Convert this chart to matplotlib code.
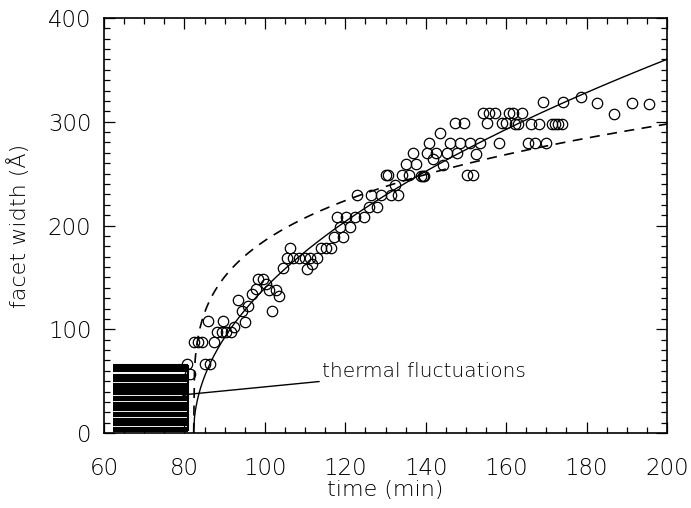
import numpy as np
import matplotlib
matplotlib.use("Agg")
import matplotlib.pyplot as plt
from matplotlib.ticker import MultipleLocator

plt.rcParams["font.family"] = "DejaVu Sans"
plt.rcParams["font.weight"] = 200
plt.rcParams["axes.labelweight"] = 200

# Measured facet widths (time in min, width in Angstrom)
time_min = [
    80.6, 81.4, 82.4, 83.4, 84.4, 87.3, 85.1, 86.4, 85.8, 89.7,
    88.2, 89.3, 90.3, 91.5, 92.4, 95.1, 94.2, 95.9, 93.4, 96.7,
    97.8, 98.4, 99.6, 100.2, 101.1, 102.8, 103.5, 101.7, 104.6,
    105.4, 107.1, 108.6, 110.0, 111.2, 112.9, 106.3, 111.6, 110.6,
    114.0, 115.2, 116.4, 117.1, 119.5, 118.7, 121.1,
    117.9, 120.2, 122.4, 124.7, 125.9, 127.9,
    123.0, 126.5, 129.0, 131.4, 133.2, 132.4,
    130.0, 130.6, 134.0, 135.9, 138.8, 139.3, 139.6,
    135.1, 137.5, 136.8, 140.2, 142.6, 145.2, 147.7, 141.7, 144.4,
    140.9, 146.1, 148.5, 151.0, 153.5, 158.1, 143.6,
    147.3, 149.5, 155.3, 158.9, 160.0, 154.3, 155.7, 157.2,
    152.6, 150.2, 151.8, 160.6, 161.6, 163.9,
    162.2, 163.0, 166.3, 168.2, 171.3, 172.1, 173.0, 173.8,
    169.1, 174.1, 178.5, 182.7, 186.9, 191.4, 195.6,
    165.5, 167.2, 169.9,
]
facet_width = [
    67.0, 56.6, 88.0, 88.0, 88.0, 87.5, 67.0, 67.0, 108.0, 108.0,
    97.6, 97.6, 97.6, 97.6, 101.8, 107.3, 117.6, 122.4, 128.2, 133.7,
    138.5, 148.1, 148.1, 143.3, 137.8, 137.8, 132.3, 117.6, 158.7,
    168.4, 168.4, 168.4, 168.4, 168.4, 168.4, 178.0, 163.0, 158.0,
    178.0, 178.0, 178.0, 188.6, 188.6, 198.5, 198.5,
    208.0, 208.0, 208.0, 208.0, 218.0, 218.0,
    229.0, 229.0, 229.0, 229.0, 229.0, 239.5,
    249.0, 249.0, 249.0, 249.0, 248.0, 248.0, 248.0,
    259.5, 259.5, 269.6, 269.6, 269.6, 269.6, 269.6, 263.8, 258.3,
    279.5, 279.2, 279.2, 279.2, 279.2, 279.2, 289.4,
    299.0, 299.0, 299.0, 299.0, 299.0, 308.7, 308.7, 308.7,
    269.0, 248.5, 248.5, 308.7, 308.7, 308.7,
    298.0, 298.0, 298.0, 298.0, 298.0, 298.0, 298.0, 298.0,
    318.7, 318.7, 323.6, 317.8, 307.2, 317.8, 317.1,
    279.2, 279.2, 279.2,
]

# Power-law growth fits w = A * (t - t0)**n
fit_t0 = 82.3
solid_amp, solid_exp = 33.2, 0.5
dashed_amp, dashed_exp = 90.4, 0.25

# Thermal fluctuation trace before facet nucleation
fluct_t_start = 62.3
fluct_t_end = 81.0
fluct_levels = [
    1.5, 3.0, 4.5, 7.5, 9.0, 10.5, 12.0, 13.5, 16.5, 18.0, 19.5,
    22.5, 24.0, 25.5, 27.0, 28.5, 31.5, 33.0, 34.5, 38.0, 39.5,
    41.0, 42.5, 44.0, 45.5, 47.0, 50.0, 51.5, 53.0, 54.5, 56.0,
    59.5, 61.0, 62.5, 64.0, 65.5,
]

x_ticks = [60, 80, 100, 120, 140, 160, 180, 200]
y_ticks = [0, 100, 200, 300, 400]

fig = plt.figure(figsize=(6.91, 5.08), dpi=100)
ax = fig.add_axes([0.1505, 0.1476, 0.8148, 0.8170])

# fluctuation block
ax.hlines(fluct_levels, fluct_t_start, fluct_t_end, colors="black", linewidth=1.5)
ax.vlines([fluct_t_end], min(fluct_levels), max(fluct_levels), colors="black", linewidth=1.5)

# fit curves
t_fit = np.linspace(fit_t0, 200, 600)
ax.plot(t_fit, solid_amp * (t_fit - fit_t0) ** solid_exp, color="black", lw=1.0)
ax.plot(t_fit, dashed_amp * (t_fit - fit_t0) ** dashed_exp, color="black", lw=1.2,
        linestyle=(0, (6, 4.5)))

# data points
ax.plot(time_min, facet_width, linestyle="none", marker="o", markersize=7.5,
        markerfacecolor="none", markeredgecolor="black", markeredgewidth=0.9)

# annotation
ax.annotate("thermal fluctuations", xy=(79.2, 36.6), xytext=(114.2, 59.5),
            fontsize=14.5, va="center", ha="left", color="black",
            arrowprops=dict(arrowstyle="->", color="black", lw=1.0,
                            shrinkA=0, shrinkB=0, mutation_scale=10))

ax.set_xlim(60, 200)
ax.set_ylim(0, 400)
ax.set_xticks(x_ticks)
ax.set_yticks(y_ticks)
ax.xaxis.set_minor_locator(MultipleLocator(5))
ax.yaxis.set_minor_locator(MultipleLocator(10))
ax.tick_params(which="both", direction="in", top=True, right=True, width=0.9,
               labelsize=16.5)
ax.tick_params(axis="x", which="major", pad=17)
ax.tick_params(axis="y", which="major", pad=9)
ax.tick_params(which="major", length=8)
ax.tick_params(which="minor", length=4)
for s in ax.spines.values():
    s.set_linewidth(1.2)

ax.set_xlabel("time (min)", fontsize=16, labelpad=0)
ax.set_ylabel("facet width (Å)", fontsize=16, labelpad=13)

fig.savefig("out.png", dpi=100)
